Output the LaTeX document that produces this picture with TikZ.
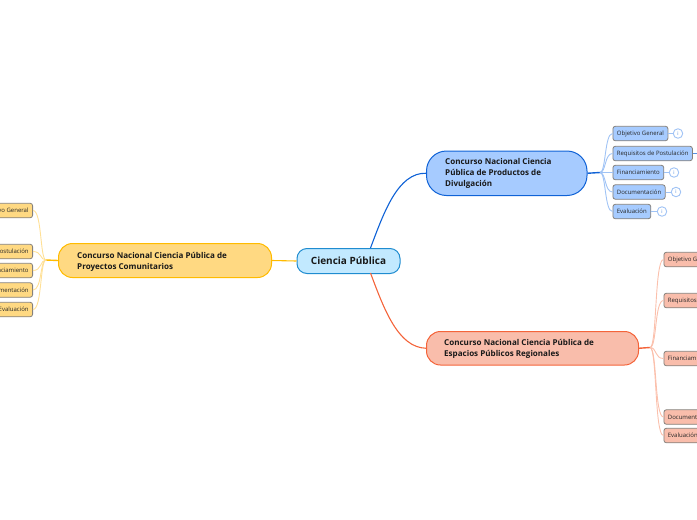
\documentclass[tikz,border=0pt]{standalone}
\usepackage{fontspec}
\usetikzlibrary{calc}
\setmainfont{Open Sans}
\definecolor{cenF}{HTML}{C2E9FF}\definecolor{cenD}{HTML}{1F8CD0}
\definecolor{bluF}{HTML}{A6CBFF}\definecolor{bluD}{HTML}{0F62D6}
\definecolor{bluL}{HTML}{A0C3F5}
\definecolor{redF}{HTML}{F9BDAB}\definecolor{redD}{HTML}{F4643A}
\definecolor{redL}{HTML}{FBC0AC}
\definecolor{yelF}{HTML}{FFD982}\definecolor{yelD}{HTML}{FFBB00}
\definecolor{yelL}{HTML}{FFE096}
\definecolor{edgeG}{HTML}{85817C}
\tikzset{
  x=1pt,y=-1pt,
  mainnode/.style={draw,rounded corners=#1,line width=1pt,anchor=north west,inner sep=0pt},
  maintxt/.style={font=\fontsize{8.05}{11.2}\selectfont\bfseries,align=left,anchor=west,inner sep=0pt,text=black!90},
  leaf/.style={draw=edgeG,fill=#1,rounded corners=2.5pt,line width=.8pt,font=\fontsize{6}{7}\selectfont,inner sep=0pt,inner xsep=4pt,minimum height=14.5pt,text=black!85},
  info/.style={circle,draw=bluL,fill=white,line width=.9pt,minimum size=9.5pt,inner sep=0pt,font=\fontsize{5}{6}\selectfont,text=bluD!80},
  lnk/.style={line width=.9pt,draw=#1},
  hublnk/.style={line width=1.4pt,draw=#1},
}
\begin{document}
\begin{tikzpicture}
\useasboundingbox (0,0) rectangle (697,520);
\clip (0,0) rectangle (697,520);
% main nodes
\node[mainnode=10pt,fill=cenF,draw=cenD,minimum width=103pt,minimum height=25pt] (c) at (296.5,248) {};
\node[font=\fontsize{10}{12}\selectfont\bfseries,text=black!90,inner sep=0pt] (ctxt) at (c.center) {Ciencia Pública};
\node[mainnode=20pt,fill=bluF,draw=bluD,minimum width=160.5pt,minimum height=44.5pt] (b) at (426,150.5) {};
\node[maintxt] (btxt) at (445,173.5) {Concurso Nacional Ciencia\\Pública de Productos de\\Divulgación};
\node[mainnode=14pt,fill=redF,draw=redD,minimum width=212pt,minimum height=33.5pt] (r) at (426,331) {};
\node[maintxt] (rtxt) at (444,348.5) {Concurso Nacional Ciencia Pública de\\Espacios Públicos Regionales};
\node[mainnode=14pt,fill=yelF,draw=yelD,minimum width=213pt,minimum height=34pt] (y) at (58,243) {};
\node[maintxt] (ytxt) at (77,261.5) {Concurso Nacional Ciencia Pública de\\Proyectos Comunitarios};
% centre links
\coordinate (cT) at (370.5,248);
\coordinate (cB) at (370.5,273);
\draw[line width=1.1pt,draw=bluD] (cT) .. controls (384,212) and (398,172.5) .. (b.west);
\draw[line width=1.1pt,draw=redD] (cB) .. controls (384,309) and (398,347.5) .. (r.west);
\draw[line width=1.1pt,draw=yelD] (c.west) -- (y.east);
% blue leaves
\node[leaf=bluF,anchor=west] (b1) at (612.5,133.5) {Objetivo General};
\node[leaf=bluF,anchor=west] (b2) at (612.5,153.5) {Requisitos de Postulación};
\node[leaf=bluF,anchor=west] (b3) at (612.5,172.5) {Financiamiento};
\node[leaf=bluF,anchor=west] (b4) at (612.5,192) {Documentación};
\node[leaf=bluF,anchor=west] (b5) at (612.5,211.5) {Evaluación};
\coordinate (bh) at (600,172.5);
\draw[hublnk=bluD] (b.east) -- (bh);
\foreach \n in {b1,b2,b3,b4,b5} {\draw[lnk=bluL] (bh) .. controls ($(bh)+(6,0)$) and ($(\n.west)+(-8,0)$) .. (\n.west);}
\node[info] (i1) at (678,133.5) {i};
\node[info] (i3) at (674,172.5) {i};
\node[info] (i4) at (676,192) {i};
\node[info] (i5) at (662,211.5) {i};
\coordinate (be) at (697,153.5);
\draw[lnk=bluL] (b1) -- (i1);
\draw[lnk=bluL] (b3) -- (i3);
\draw[lnk=bluL] (b4) -- (i4);
\draw[lnk=bluL] (b5) -- (i5);
\draw[lnk=bluD!70] (b2) -- (be);
% red leaves
\node[leaf=redF,anchor=west] (r1) at (663.5,259.5) {Objetivo General};
\node[leaf=redF,anchor=west] (r2) at (663.5,300.5) {Requisitos de Postulación};
\node[leaf=redF,anchor=west] (r3) at (663.5,358.5) {Financiamiento};
\node[leaf=redF,anchor=west] (r4) at (663.5,417) {Documentación};
\node[leaf=redF,anchor=west] (r5) at (663.5,435.5) {Evaluación};
\coordinate (rh) at (650,347.5);
\draw[hublnk=redD] (r.east) -- (rh);
\foreach \n in {r1,r2,r3,r4,r5} {\draw[lnk=redL] (rh) .. controls ($(rh)+(7,0)$) and ($(\n.west)+(-9,0)$) .. (\n.west);}
% yellow leaves
\node[leaf=yelF,anchor=east] (y1) at (33,210.5) {Objetivo General};
\node[leaf=yelF,anchor=east] (y2) at (33,251.5) {Requisitos de Postulación};
\node[leaf=yelF,anchor=east] (y3) at (33,270.5) {Financiamiento};
\node[leaf=yelF,anchor=east] (y4) at (33,290) {Documentación};
\node[leaf=yelF,anchor=east] (y5) at (33,309.5) {Evaluación};
\coordinate (yh) at (46,260);
\draw[hublnk=yelD] (y.west) -- (yh);
\foreach \n in {y1,y2,y3,y4,y5} {\draw[lnk=yelL] (yh) .. controls ($(yh)+(-6,0)$) and ($(\n.east)+(9,0)$) .. (\n.east);}
\end{tikzpicture}
\end{document}
